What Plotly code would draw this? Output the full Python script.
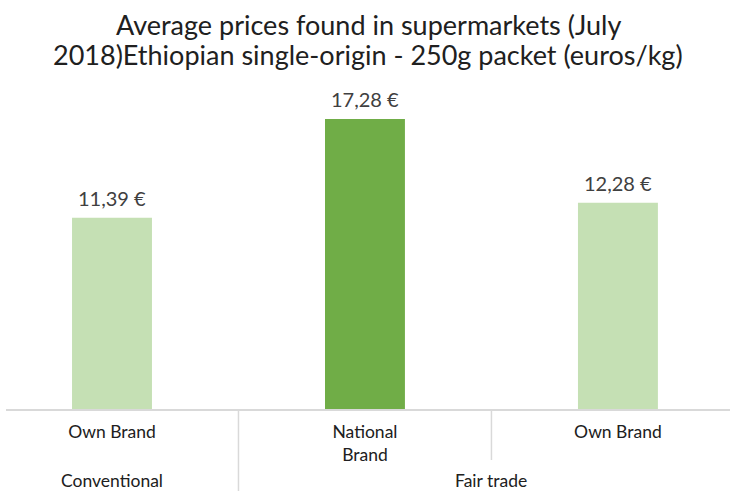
import plotly.graph_objects as go

# Average supermarket prices, Ethiopian single-origin coffee, 250 g packet (euros/kg)
title_lines = [
    "Average prices found in supermarkets (July",
    "2018)Ethiopian single-origin - 250g packet (euros/kg)",
]
brands = ["Own Brand", "National<br>Brand", "Own Brand"]
segments = ["Conventional", "Fair trade"]
segment_of_bar = [0, 1, 1]
prices = [11.39, 17.28, 12.28]
bar_colors = ["#c5e0b4", "#70ad47", "#c5e0b4"]

x = list(range(len(prices)))
label_color = "#404040"
text_color = "#202020"
font_family = "Lato, 'Open Sans', sans-serif"

W, H = 730, 491
M_TOP, M_BOTTOM = 90, 82
plot_h = H - M_TOP - M_BOTTOM


def paper_y(px_from_top):
    """Convert a pixel row (from the top of the page) to plot-paper y."""
    return (H - M_BOTTOM - px_from_top) / plot_h


fig = go.Figure()
fig.add_trace(go.Bar(
    x=x, y=prices, width=0.316,
    marker=dict(color=bar_colors, line=dict(width=0)),
    hoverinfo="skip",
))

annotations = []
# chart title, one annotation per line for tight line spacing
for i, line in enumerate(title_lines):
    annotations.append(dict(
        x=0.5, y=paper_y(24 + 31 * i), xref="paper", yref="paper",
        text=line, showarrow=False, xanchor="center", yanchor="middle",
        font=dict(size=27, color=text_color, family=font_family),
    ))

# value labels above each bar (comma decimal, euro sign)
for xi, v in zip(x, prices):
    annotations.append(dict(
        x=xi, y=v, xref="x", yref="y",
        text=f"{v:.2f}".replace(".", ",") + " €",
        showarrow=False, yanchor="middle", yshift=20,
        font=dict(size=20, color=label_color, family=font_family),
    ))

# outer category labels, centred under their group of bars
for si, seg in enumerate(segments):
    members = [xi for xi, s in zip(x, segment_of_bar) if s == si]
    annotations.append(dict(
        x=sum(members) / len(members), y=paper_y(480), xref="x", yref="paper",
        text=seg, showarrow=False, yanchor="middle",
        font=dict(size=17.5, color=text_color, family=font_family),
    ))

shapes = []
grid_color = "#d9d9d9"
# dividers: full height between outer groups, first row only inside a group
for i in range(1, len(x)):
    depth = paper_y(491) if segment_of_bar[i] != segment_of_bar[i - 1] else paper_y(460)
    shapes.append(dict(type="line", xref="x", yref="paper",
                       x0=i - 0.5, x1=i - 0.5, y0=0, y1=depth,
                       line=dict(color=grid_color, width=1.5)))

fig.update_layout(
    width=W, height=H,
    margin=dict(l=6, r=0, t=M_TOP, b=M_BOTTOM),
    paper_bgcolor="white", plot_bgcolor="white",
    showlegend=False,
    xaxis=dict(
        tickmode="array", tickvals=x, ticktext=brands,
        range=[-0.419, 2.443], showgrid=False, zeroline=False,
        showline=True, linecolor=grid_color, linewidth=1.5,
        ticks="", ticklabelstandoff=6,
        tickfont=dict(size=17.5, color=text_color, family=font_family),
        fixedrange=True,
    ),
    yaxis=dict(range=[0, 19.0], visible=False, fixedrange=True),
    annotations=annotations,
    shapes=shapes,
)

fig.write_html("out.html")
